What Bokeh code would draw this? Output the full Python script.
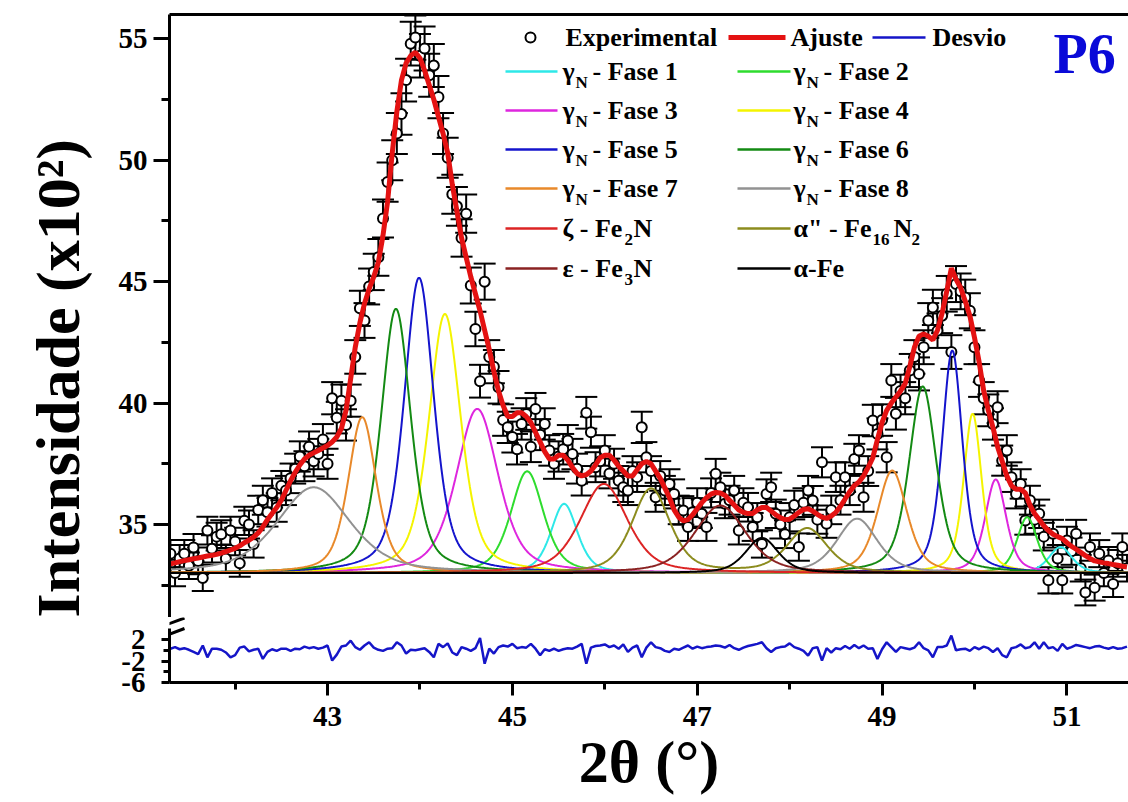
import math
from bokeh.plotting import figure
from bokeh.layouts import column
from bokeh.models import (ColumnDataSource, Range1d, FixedTicker, LinearAxis, Label,
                          Whisker, TeeHead, Title)
from bokeh.embed import file_html
from bokeh.resources import INLINE

# ------------------------------------------------------------------ data
two_theta_start = 41.30
two_theta_step = 0.05

experimental = [
    33.8, 33.0, 33.6, 33.8, 33.3, 34.05, 33.5, 32.8, 34.75, 34.0,
    34.5, 34.6, 33.6, 34.75, 34.3, 33.4, 35.15, 35.0, 34.2, 35.6,
    36.0, 35.5, 36.3, 35.7, 36.6, 36.4, 36.9, 37.3, 37.8, 37.4,
    38.2, 37.6, 37.9, 38.5, 37.5, 40.2, 39.4, 40.1, 39.1, 40.1,
    41.9, 43.9, 43.4, 44.8, 45.4, 46.0, 47.6, 49.1, 50.0, 51.1,
    51.9, 53.3, 54.8, 55.05, 54.3, 54.6, 53.5, 53.9, 52.6, 51.1,
    50.1, 48.6, 48.1, 46.8, 47.8, 44.84, 43.05, 40.9, 45.0, 41.9,
    41.5, 40.65, 39.3, 39.0, 38.6, 38.1, 39.14, 39.55, 38.2, 39.76,
    38.7, 39.14, 38.05, 37.5, 37.8, 38.1, 38.46, 37.9, 37.3, 36.8,
    39.6, 38.8, 37.36, 37.6, 38.05, 37.1, 37.5, 36.8, 36.53, 36.4,
    37.2, 36.95, 39.0, 37.77, 37.2, 36.12, 37.0, 36.4, 36.67, 36.26,
    35.6, 35.58, 34.9, 35.5, 35.9, 35.44, 34.9, 36.3, 37.09, 36.53,
    35.85, 36.0, 36.4, 34.75, 35.9, 35.71, 34.9, 35.3, 34.2, 36.26,
    36.53, 35.44, 35.0, 34.6, 35.3, 35.8, 34.07, 35.9, 36.4, 35.99,
    35.2, 37.56, 35.03, 35.6, 36.95, 36.0, 36.95, 36.4, 37.7, 38.05,
    36.12, 37.2, 39.28, 38.73, 39.3, 37.77, 40.93, 39.56, 40.5, 40.2,
    41.34, 41.9, 41.2, 42.3, 43.4, 43.94, 42.98, 43.6, 44.5, 42.1,
    44.9, 44.6, 44.35, 43.8, 42.3, 40.93, 40.2, 39.7, 39.14, 39.83,
    37.63, 38.05, 36.95, 36.26, 36.67, 35.16, 36.0, 35.2, 35.44, 34.5,
    32.7, 34.62, 33.6, 32.7, 34.34, 33.9, 34.62, 33.2, 32.2, 34.07,
    32.4, 33.8, 33.0, 33.52, 32.55, 33.4, 34.07, 33.2,
]

ajuste = [
    33.38, 33.42, 33.47, 33.51, 33.55, 33.59, 33.62, 33.66, 33.70, 33.73,
    33.77, 33.82, 33.88, 33.95, 34.02, 34.12, 34.25, 34.35, 34.48, 34.65,
    34.9, 35.2, 35.45, 35.7, 36.0, 36.4, 36.8, 37.15, 37.45, 37.7,
    37.85, 37.95, 38.05, 38.15, 38.25, 38.4, 38.6, 38.95, 39.7, 41.0,
    42.3, 43.3, 44.1, 44.7, 45.2, 45.8, 46.9, 48.3, 50.3, 52.0,
    53.3, 54.0, 54.3, 54.45, 54.2, 53.7, 53.1, 52.5, 51.8, 51.1,
    50.3, 49.0, 47.9, 46.8, 46.0, 45.2, 44.5, 43.8, 43.0, 42.2,
    41.3, 40.5, 39.9, 39.45, 39.45, 39.6, 39.6, 39.45, 39.2, 38.8,
    38.4, 38.0, 37.7, 37.7, 37.85, 37.85, 37.65, 37.35, 37.1, 37.0,
    37.05, 37.2, 37.45, 37.75, 37.85, 37.85, 37.65, 37.4, 37.2, 37.0,
    37.0, 37.25, 37.5, 37.6, 37.5, 37.2, 36.9, 36.5, 36.1, 35.6,
    35.3, 35.15, 35.2, 35.4, 35.65, 35.9, 36.1, 36.25, 36.32, 36.3,
    36.2, 36.0, 35.8, 35.6, 35.5, 35.45, 35.45, 35.6, 35.7, 35.7,
    35.55, 35.4, 35.28, 35.2, 35.22, 35.35, 35.5, 35.62, 35.65, 35.55,
    35.42, 35.3, 35.25, 35.35, 35.5, 35.75, 36.05, 36.35, 36.6, 36.75,
    37.0, 37.35, 37.75, 38.5, 39.2, 39.7, 40.0, 40.25, 40.5, 40.8,
    41.5, 42.3, 42.75, 42.85, 42.75, 42.6, 43.0, 43.7, 44.6, 45.55,
    45.1, 44.75, 44.2, 43.6, 42.7, 41.7, 40.5, 39.7, 39.0, 38.2,
    37.6, 37.0, 36.6, 36.45, 36.45, 36.3, 35.8, 35.45, 35.2, 34.95,
    34.75, 34.6, 34.5, 34.42, 34.25, 34.1, 33.98, 33.85, 33.72, 33.6,
    33.5, 33.46, 33.42, 33.39, 33.35, 33.32, 33.28, 33.25,
]

desvio = [
    0.3, 0.6, 0.2, 0.4, 0.1, -0.3, -0.7, 0.9, -1.3, 0.3,
    0.3, 0.1, -0.4, -1.3, -0.9, 0.5, 0.7, -0.2, 0.1, 0.3,
    -1.6, -0.3, 0.2, -0.1, 0.3, 0.3, -0.1, 0.3, 0.2, 0.7,
    0.4, 0.6, 0.3, 0.5, 0.9, -1.9, -0.8, 0.7, 0.9, 1.8,
    0.6, 0.1, 0.9, 1.5, 0.5, 0.1, -0.1, 0.3, 0.4, 1.5,
    0.9, -0.6, 0.1, 0.0, 0.2, 0.4, -0.3, -1.3, 1.2, 0.6,
    1.3, -0.4, -0.9, 0.6, 0.3, -0.1, 0.4, 2.3, -2.5, 0.3,
    -0.6, 0.6, 0.9, 0.7, 1.2, 0.4, 0.6, 0.5, 1.2, 0.3,
    -0.9, 0.2, -0.1, 0.3, -0.1, 0.2, 0.4, 0.3, 0.7, 1.2,
    -2.5, 0.5, 0.8, 0.9, 1.1, 0.6, 0.9, 0.3, 1.1, -0.3,
    0.5, 0.9, -1.3, 0.5, 1.5, 0.6, 0.4, -0.1, -0.3, 0.3,
    0.1, 0.5, 0.9, 0.3, 0.7, 0.4, 0.6, 0.7, 0.9, 0.8,
    0.5, 1.0, 0.4, 0.1, 0.5, 0.8, 1.0, 1.2, 1.5, 0.4,
    -0.3, 0.4, 0.6, 0.7, 1.3, 0.6, 0.3, -0.1, -1.0, 0.4,
    0.6, -1.9, 0.4, -0.4, 0.4, 0.2, 0.8, 0.3, 1.0, 0.4,
    0.9, 0.3, 0.4, -1.6, 0.2, 1.5, 0.6, -0.3, 0.6, 0.4,
    0.2, 0.5, 1.5, 0.4, 0.0, -1.3, 0.6, 0.6, 0.9, 2.75,
    0.0, 0.2, 0.3, -0.1, 0.6, 0.2, 0.7, 0.4, -0.3, 0.4,
    -0.9, -1.3, 0.4, 0.6, 1.1, 0.4, 0.6, 1.5, 0.3, 1.5,
    0.4, 0.6, -0.1, 1.2, 0.3, 0.6, 1.0, 0.8, 0.6, 0.4,
    0.7, 0.8, 0.5, 0.3, 0.6, 0.3, 0.4, 0.7,
]

background = 33.0          # flat baseline of every component (x10^2)
relative_error = 0.0165    # error-bar half length relative to intensity
voigt_eta = 0.5            # Lorentzian fraction of the component profiles

# component phases: peak centres (2theta), peak tops (x10^2), FWHM (deg)
phase_colors = ["#2ee8e8", "#2edc2e", "#de26de", "#f4f400", "#1414cc", "#138a13",
                "#e8892a", "#929292", "#dc2424", "#8c8c1e", "#8a2222", "#000000"]
phase_centers = [[45.56, 50.93], [45.16, 50.57], [44.62, 50.23], [44.27, 49.98],
                 [43.99, 49.76], [43.74, 49.44], [43.375, 49.11], [42.85, 48.73],
                 [45.99], [46.50, 48.19], [47.25], [47.70]]
phase_tops = [[35.85, 34.07], [37.19, 35.30], [39.76, 36.85], [43.67, 39.56],
              [45.16, 42.16], [43.88, 40.68], [39.42, 37.22], [36.53, 35.23],
              [36.67], [36.47, 34.82], [35.78], [34.45]]
phase_fwhm = [[0.34, 0.30], [0.42, 0.26], [0.54, 0.27], [0.41, 0.23],
              [0.38, 0.26], [0.38, 0.35], [0.36, 0.38], [0.94, 0.52],
              [0.61], [0.49, 0.52], [0.66], [0.42]]
phase_label_pieces = [
    [("γ", 0, 0), ("N", 13, 1), ("- Fase 1", 30, 0)],
    [("γ", 0, 0), ("N", 13, 1), ("- Fase 2", 30, 0)],
    [("γ", 0, 0), ("N", 13, 1), ("- Fase 3", 30, 0)],
    [("γ", 0, 0), ("N", 13, 1), ("- Fase 4", 30, 0)],
    [("γ", 0, 0), ("N", 13, 1), ("- Fase 5", 30, 0)],
    [("γ", 0, 0), ("N", 13, 1), ("- Fase 6", 30, 0)],
    [("γ", 0, 0), ("N", 13, 1), ("- Fase 7", 30, 0)],
    [("γ", 0, 0), ("N", 13, 1), ("- Fase 8", 30, 0)],
    [("ζ - Fe", 0, 0), ("2", 62, 1), ("N", 71, 0)],
    [("α\" - Fe", 0, 0), ("16", 79, 1), ("N", 100, 0), ("2", 118, 1)],
    [("ε - Fe", 0, 0), ("3", 62, 1), ("N", 71, 0)],
    [("α-Fe", 0, 0)],
]

x_ticks = [43, 45, 47, 49, 51]
x_minor = [42, 44, 46, 48, 50]
y_ticks_upper = [35, 40, 45, 50, 55]
y_minor_upper = [32.5, 37.5, 42.5, 47.5, 52.5]
y_ticks_lower = [-6, -2, 2]
y_minor_lower = [-4, 0]

# ------------------------------------------------------------------ layout helpers
FONT = "Liberation Serif"
PX_PER_DEG = 92.42
FRAME_L = 169                            # y axes / frame left (px)
X_START = 41.29
X_END = X_START + (1128 - FRAME_L) / PX_PER_DEG
U_TOP, U_BOT = 56.0, 31.17               # upper panel range (frame 14..617 px)
L_PER_PX = 10.07 / 54                    # lower panel units per px
L_BOT = -6.0                             # value at 682 px
L_TOP = L_BOT + 65 * L_PER_PX            # value at 617 px (frame top)
L_AXIS_TOP = L_BOT + 54 * L_PER_PX       # axis line starts at 628 px


def px2x(px):
    return X_START + (px - FRAME_L) / PX_PER_DEG


def py2y(py):
    return U_TOP - (py - 14) * (U_TOP - U_BOT) / (617 - 14)


def py2v(py):
    return L_TOP - (py - 617) * L_PER_PX


def make_label(s, x, y, size, bold=True, color="black", align="left"):
    return Label(x=x, y=y, text=s, text_font=FONT, text_font_size=f"{size}px",
                 text_font_style="bold" if bold else "normal", text_color=color,
                 text_align=align, text_baseline="middle")


def style_axis(ax, tick_out, minor_out, standoff, size):
    ax.axis_line_width = 3
    ax.major_tick_line_width = 3
    ax.minor_tick_line_width = 3
    ax.major_tick_in = 0
    ax.minor_tick_in = 0
    ax.major_tick_out = tick_out
    ax.minor_tick_out = minor_out
    ax.major_label_standoff = standoff
    ax.major_label_text_font = FONT
    ax.major_label_text_font_style = "bold"
    ax.major_label_text_font_size = f"{size}px"
    ax.major_label_text_color = "black"


n = len(experimental)
two_theta = [round(two_theta_start + two_theta_step * i, 2) for i in range(n)]
err = [relative_error * v for v in experimental]
src = ColumnDataSource(dict(x=two_theta, y=experimental,
                            up=[v + e for v, e in zip(experimental, err)],
                            lo=[v - e for v, e in zip(experimental, err)]))

x_range = Range1d(X_START, X_END)

# ------------------------------------------------------------------ upper panel
p1 = figure(width=1128, height=617, x_range=x_range, y_range=Range1d(U_BOT, U_TOP),
            x_axis_location=None, toolbar_location=None, output_backend="svg",
            min_border_left=FRAME_L, min_border_right=0, min_border_top=14,
            min_border_bottom=0, outline_line_color=None,
            background_fill_color="white", border_fill_color="white")
p1.grid.visible = False

ya = p1.yaxis[0]
ya.ticker = FixedTicker(ticks=y_ticks_upper, minor_ticks=y_minor_upper)
style_axis(ya, 16, 8, 6, 29)

top_axis = LinearAxis(ticker=FixedTicker(ticks=[]), axis_line_width=3,
                      major_tick_in=0, major_tick_out=0, minor_tick_in=0,
                      minor_tick_out=0, major_label_standoff=0,
                      major_label_text_font_size="0px")
p1.add_layout(top_axis, "above")

# y axis title (side panel title, starts at the bottom of the panel)
p1.add_layout(Title(text="Intensidade (x10²)", align="left", offset=0,
                    vertical_align="top", standoff=44, text_font=FONT,
                    text_font_size="62px", text_font_style="bold",
                    text_color="black"), "left")

# error bars + experimental points
p1.add_layout(Whisker(source=src, base="x", upper="up", lower="lo",
                      line_color="black", line_width=2,
                      upper_head=TeeHead(size=22, line_width=2, line_color="black"),
                      lower_head=TeeHead(size=22, line_width=2, line_color="black")))
p1.scatter("x", "y", source=src, marker="circle", size=10, line_color="black",
           line_width=2, fill_color="white")

# component curves
fine_x = [round(X_START + 0.01 * i, 2) for i in range(1040)]


def profile(x, c, top, w):
    d = (x - c) / w
    return (top - background) * (voigt_eta / (1 + 4 * d * d) +
                                 (1 - voigt_eta) * math.exp(-4 * math.log(2) * d * d))


for k in range(len(phase_colors)):
    ys = [background + sum(profile(x, c, t, w) for c, t, w in
                           zip(phase_centers[k], phase_tops[k], phase_fwhm[k]))
          for x in fine_x]
    p1.line(fine_x, ys, line_color=phase_colors[k], line_width=2)

# fit
p1.line(two_theta, ajuste, line_color="#e41212", line_width=5)

# legend (row 1)
ROW1 = 37
p1.scatter([px2x(530)], [py2y(ROW1)], marker="circle", size=10, line_color="black",
           line_width=2, fill_color="white")
p1.add_layout(make_label("Experimental", px2x(565), py2y(ROW1), 26))
p1.segment([px2x(728)], [py2y(ROW1)], [px2x(785)], [py2y(ROW1)],
           line_color="#e41212", line_width=5)
p1.add_layout(make_label("Ajuste", px2x(790), py2y(ROW1), 26))
p1.segment([px2x(872)], [py2y(ROW1)], [px2x(925)], [py2y(ROW1)],
           line_color="#1515c8", line_width=2.5)
p1.add_layout(make_label("Desvio", px2x(932), py2y(ROW1), 26))

rows_y = [71, 110, 149, 188, 228, 268]
for k in range(len(phase_colors)):
    col = k % 2
    ry = rows_y[k // 2]
    lx0, lx1, tx = (505, 557, 562) if col == 0 else (737, 790, 793)
    p1.segment([px2x(lx0)], [py2y(ry)], [px2x(lx1)], [py2y(ry)],
               line_color=phase_colors[k], line_width=2.5)
    for s, off, sub in phase_label_pieces[k]:
        if sub:
            p1.add_layout(make_label(s, px2x(tx + off), py2y(ry + 11), 17))
        else:
            p1.add_layout(make_label(s, px2x(tx + off), py2y(ry), 26))

p1.add_layout(make_label("P6", px2x(1053), py2y(53), 56, color="#0a0ad8"))

# ------------------------------------------------------------------ lower panel
p2 = figure(width=1128, height=185, x_range=x_range, y_range=Range1d(L_BOT, L_TOP),
            toolbar_location=None, output_backend="svg",
            min_border_left=FRAME_L, min_border_right=0, min_border_top=0,
            min_border_bottom=120, outline_line_color=None,
            background_fill_color="white", border_fill_color="white")
p2.grid.visible = False

xa = p2.xaxis[0]
xa.ticker = FixedTicker(ticks=x_ticks, minor_ticks=x_minor)
style_axis(xa, 13, 7, 11, 29)
xa.axis_label = "2θ (°)"
xa.axis_label_text_font = FONT
xa.axis_label_text_font_style = "bold"
xa.axis_label_text_font_size = "60px"
xa.axis_label_text_color = "black"
xa.axis_label_standoff = 0

yb = p2.yaxis[0]
yb.ticker = FixedTicker(ticks=y_ticks_lower, minor_ticks=y_minor_lower)
yb.major_label_overrides = {t: str(t) for t in y_ticks_lower}
yb.bounds = (L_BOT, L_AXIS_TOP)
style_axis(yb, 8, 6, 16, 29)

p2.line(two_theta, desvio, line_color="#1515c8", line_width=2.5)

# axis-break marks in the gap of the y axis (the part inside the plot area)
p2.segment([px2x(153), px2x(155)], [py2v(629), py2v(639)],
           [px2x(184), px2x(184)], [py2v(617.5), py2v(628)],
           line_color="black", line_width=3)

layout = column(p1, p2)
open("out.html", "w").write(file_html(layout, INLINE))
